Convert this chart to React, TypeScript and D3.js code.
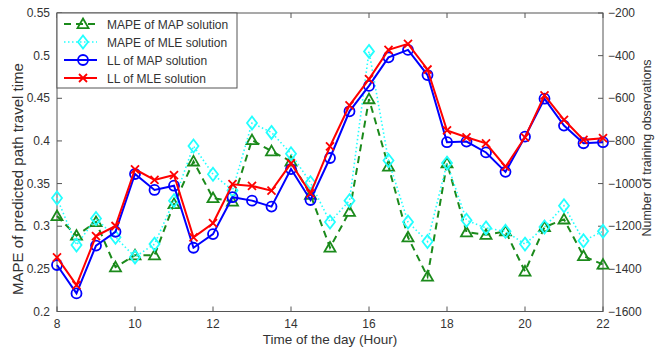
import React from "react";
import * as d3 from "d3";

const hours = [8, 8.5, 9, 9.5, 10, 10.5, 11, 11.5, 12, 12.5, 13, 13.5, 14, 14.5, 15, 15.5, 16, 16.5, 17, 17.5, 18, 18.5, 19, 19.5, 20, 20.5, 21, 21.5, 22];
const mapeMAP = [0.312, 0.289, 0.305, 0.252, 0.266, 0.266, 0.326, 0.376, 0.333, 0.329, 0.401, 0.388, 0.376, 0.337, 0.275, 0.317, 0.449, 0.370, 0.287, 0.241, 0.374, 0.293, 0.290, 0.294, 0.247, 0.299, 0.308, 0.265, 0.255];
const mapeMLE = [0.333, 0.278, 0.309, 0.287, 0.264, 0.279, 0.330, 0.394, 0.361, 0.342, 0.421, 0.410, 0.385, 0.351, 0.305, 0.330, 0.505, 0.377, 0.305, 0.282, 0.374, 0.307, 0.298, 0.294, 0.279, 0.299, 0.324, 0.283, 0.294];
const llMAP = [-1382, -1515, -1291, -1226, -955, -1030, -1010, -1301, -1237, -1064, -1080, -1108, -932, -1077, -880, -661, -542, -408, -373, -491, -806, -803, -854, -945, -780, -602, -728, -811, -806];
const llMLE = [-1346, -1476, -1246, -1199, -933, -983, -960, -1252, -1186, -1003, -1011, -1033, -905, -1046, -826, -633, -510, -373, -345, -465, -751, -783, -811, -921, -783, -586, -701, -795, -787];

const xTicks = [8, 10, 12, 14, 16, 18, 20, 22];
const leftTicks = [0.2, 0.25, 0.3, 0.35, 0.4, 0.45, 0.5, 0.55];
const rightTicks = [-1600, -1400, -1200, -1000, -800, -600, -400, -200];
const legendLabels = ["MAPE of MAP solution", "MAPE of MLE solution", "LL of MAP solution", "LL of MLE solution"];

const W = 661, H = 352;
const L = 57, R = 603, T = 13, B = 311.5;
const FONT = "'Liberation Sans', Arial, sans-serif";
const AX = "#555";
const TXT = "#333";
const GREEN = "#1b8a1b";
const CYAN = "#22ffff";
const BLUE = "#0000ff";
const RED = "#ff0000";

function Marker({ type, x, y, color }: { type: string; x: number; y: number; color: string }) {
  if (type === "tri") {
    const s = 5.5;
    return <path d={`M${x},${y - s}L${x + s},${y + s * 0.75}L${x - s},${y + s * 0.75}Z`} fill="none" stroke={color} strokeWidth={1.8} />;
  }
  if (type === "dia") {
    return <path d={`M${x},${y - 6.5}L${x + 5},${y}L${x},${y + 6.5}L${x - 5},${y}Z`} fill="none" stroke={color} strokeWidth={1.8} />;
  }
  if (type === "circ") {
    return <circle cx={x} cy={y} r={5} fill="none" stroke={color} strokeWidth={1.8} />;
  }
  const s = 4;
  return <path d={`M${x - s},${y - s}L${x + s},${y + s}M${x - s},${y + s}L${x + s},${y - s}`} stroke={color} strokeWidth={1.8} />;
}

export default function App() {
  const x = d3.scaleLinear().domain([8, 22]).range([L, R]);
  const yL = d3.scaleLinear().domain([0.2, 0.55]).range([B, T]);
  const yR = d3.scaleLinear().domain([-1600, -200]).range([B, T]);

  const series = [
    { vals: mapeMAP, y: yL, color: GREEN, dash: "7,5", width: 2, marker: "tri" },
    { vals: mapeMLE, y: yL, color: CYAN, dash: "1.5,2.5", width: 1.6, marker: "dia" },
    { vals: llMAP, y: yR, color: BLUE, dash: undefined, width: 2, marker: "circ" },
    { vals: llMLE, y: yR, color: RED, dash: undefined, width: 2, marker: "x" },
  ];

  const lineGen = (vals: number[], ys: d3.ScaleLinear<number, number>) =>
    d3.line<number>().x((_, i) => x(hours[i])).y((v) => ys(v))(vals) || "";

  return (
    <svg width={W} height={H} style={{ position: "fixed", left: 0, top: 0, background: "#fff" }} fontFamily={FONT}>
      <rect x={0} y={0} width={W} height={H} fill="#fff" />
      {/* frame */}
      <rect x={L} y={T} width={R - L} height={B - T} fill="none" stroke={AX} strokeWidth={1} />
      {/* x ticks */}
      {xTicks.map((t) => (
        <g key={"xt" + t}>
          <line x1={x(t)} x2={x(t)} y1={B} y2={B - 5} stroke={AX} />
          <line x1={x(t)} x2={x(t)} y1={T} y2={T + 5} stroke={AX} />
          <text x={x(t)} y={328} textAnchor="middle" fontSize={12} fill={TXT}>{t}</text>
        </g>
      ))}
      {leftTicks.map((t) => (
        <g key={"lt" + t}>
          <line x1={L} x2={L + 5} y1={yL(t)} y2={yL(t)} stroke={AX} />
          <text x={50} y={yL(t) + 4} textAnchor="end" fontSize={12} fill={TXT}>{t}</text>
        </g>
      ))}
      {rightTicks.map((t) => (
        <g key={"rt" + t}>
          <line x1={R} x2={R - 5} y1={yR(t)} y2={yR(t)} stroke={AX} />
          <text x={608} y={yR(t) + 4} textAnchor="start" fontSize={12} fill={TXT}>{"\u2212" + Math.abs(t)}</text>
        </g>
      ))}
      {/* axis titles */}
      <text x={330} y={344} textAnchor="middle" fontSize={13.5} fill={TXT}>Time of the day (Hour)</text>
      <text transform={`translate(23,179) rotate(-90)`} textAnchor="middle" fontSize={15} fill={TXT}>MAPE of predicted path travel time</text>
      <text transform={`translate(651,148) rotate(-90)`} textAnchor="middle" fontSize={12.5} fill={TXT}>Number of training observations</text>
      {/* series */}
      {series.map((s, si) => (
        <g key={"s" + si}>
          <path d={lineGen(s.vals, s.y)} fill="none" stroke={s.color} strokeWidth={s.width} strokeDasharray={s.dash} />
          {s.vals.map((v, i) => (
            <Marker key={i} type={s.marker} x={x(hours[i])} y={s.y(v)} color={s.color} />
          ))}
        </g>
      ))}
      {/* legend */}
      <rect x={L} y={T} width={180} height={75} fill="#fff" stroke={AX} strokeWidth={1} />
      {series.map((s, i) => {
        const ly = 24 + i * 18;
        return (
          <g key={"lg" + i}>
            <line x1={64} x2={97} y1={ly} y2={ly} stroke={s.color} strokeWidth={s.width} strokeDasharray={s.dash} />
            <Marker type={s.marker} x={83} y={ly} color={s.color} />
            <text x={107} y={ly + 4.5} fontSize={12} fill={TXT}>{legendLabels[i]}</text>
          </g>
        );
      })}
    </svg>
  );
}
